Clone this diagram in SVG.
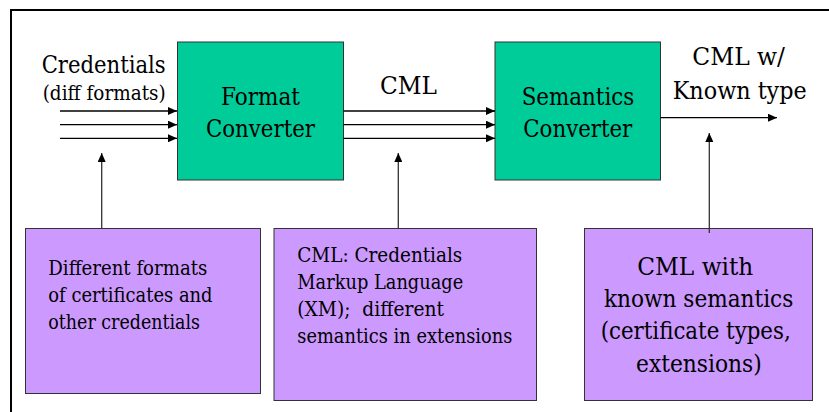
<svg xmlns="http://www.w3.org/2000/svg" width="829" height="412" viewBox="0 0 829 412">
<defs>
<marker id="ah" markerWidth="10" markerHeight="8" refX="9" refY="4" orient="auto" markerUnits="userSpaceOnUse">
<path d="M0,0 L9,4 L0,8 Z" fill="#000"/>
</marker>
</defs>
<style>
text{font-family:'DejaVu Serif',serif;fill:#000}
.big{font-size:24px}
.med{font-size:20.5px}
.sm{font-size:20px}
.green{fill:#00CC99;stroke:#333;stroke-width:1}
.purple{fill:#CC99FF;stroke:#333;stroke-width:1}
.ln{stroke:#000;stroke-width:1.3;fill:none}
.up{stroke:#333;stroke-width:1.3;fill:none}
</style>
<rect x="0" y="0" width="829" height="412" fill="#fff"/>
<rect x="11" y="10" width="840" height="430" fill="none" stroke="#000" stroke-width="2"/>
<g id="labels">
<text class="big" x="41.7" y="73" textLength="124" lengthAdjust="spacingAndGlyphs">Credentials</text>
<text class="med" x="42.7" y="100" textLength="123" lengthAdjust="spacingAndGlyphs">(diff formats)</text>
<text class="big" x="380" y="94" textLength="57" lengthAdjust="spacingAndGlyphs">CML</text>
<text class="big" x="692.3" y="65" textLength="92.7" lengthAdjust="spacingAndGlyphs">CML w/</text>
<text class="big" x="672.7" y="99" textLength="134" lengthAdjust="spacingAndGlyphs">Known type</text>
</g>
<g id="format-converter">
<rect class="green" x="177.5" y="42" width="166" height="138"/>
<text class="big" x="221" y="105" textLength="79" lengthAdjust="spacingAndGlyphs">Format</text>
<text class="big" x="206" y="136.5" textLength="109" lengthAdjust="spacingAndGlyphs">Converter</text>
</g>
<g id="semantics-converter">
<rect class="green" x="495" y="42" width="165.5" height="138"/>
<text class="big" x="521.7" y="104.5" textLength="112.6" lengthAdjust="spacingAndGlyphs">Semantics</text>
<text class="big" x="523.3" y="136.5" textLength="109" lengthAdjust="spacingAndGlyphs">Converter</text>
</g>
<g id="note-formats">
<rect class="purple" x="25.5" y="228.5" width="235" height="165"/>
<text class="sm" x="48.3" y="275" textLength="159" lengthAdjust="spacingAndGlyphs">Different formats</text>
<text class="sm" x="48.3" y="302" textLength="164.3" lengthAdjust="spacingAndGlyphs">of certificates and</text>
<text class="sm" x="48.3" y="328.5" textLength="151.7" lengthAdjust="spacingAndGlyphs">other credentials</text>
</g>
<g id="note-cml">
<rect class="purple" x="274" y="228.5" width="262.5" height="172"/>
<text class="med" x="297.3" y="261.5" textLength="165" lengthAdjust="spacingAndGlyphs">CML: Credentials</text>
<text class="med" x="297.3" y="288.5" textLength="166" lengthAdjust="spacingAndGlyphs">Markup Language</text>
<text class="med" x="297.3" y="315.5" xml:space="preserve" textLength="146.7" lengthAdjust="spacingAndGlyphs">(XM);  different</text>
<text class="med" x="297.3" y="343" textLength="215" lengthAdjust="spacingAndGlyphs">semantics in extensions</text>
</g>
<g id="note-semantics">
<rect class="purple" x="584.5" y="228.5" width="228" height="172"/>
<text class="big" x="637.3" y="275" textLength="116" lengthAdjust="spacingAndGlyphs">CML with</text>
<text class="big" x="604" y="306.5" textLength="189.3" lengthAdjust="spacingAndGlyphs">known semantics</text>
<text class="big" x="600.7" y="339" textLength="190" lengthAdjust="spacingAndGlyphs">(certificate types,</text>
<text class="big" x="636" y="371.5" textLength="125.7" lengthAdjust="spacingAndGlyphs">extensions)</text>
</g>
<g id="connectors">
<line class="ln" x1="60" y1="111" x2="177" y2="111" marker-end="url(#ah)"/>
<line class="ln" x1="60" y1="124.7" x2="177" y2="124.7" marker-end="url(#ah)"/>
<line class="ln" x1="60" y1="138.3" x2="177" y2="138.3" marker-end="url(#ah)"/>
<line class="ln" x1="343.5" y1="111" x2="495" y2="111" marker-end="url(#ah)"/>
<line class="ln" x1="343.5" y1="124.7" x2="495" y2="124.7" marker-end="url(#ah)"/>
<line class="ln" x1="343.5" y1="138.3" x2="495" y2="138.3" marker-end="url(#ah)"/>
<line class="ln" x1="660.5" y1="117.7" x2="777" y2="117.7" marker-end="url(#ah)"/>
<line class="up" x1="101.7" y1="228.5" x2="101.7" y2="153" marker-end="url(#ah)"/>
<line class="up" x1="398.3" y1="228.5" x2="398.3" y2="153" marker-end="url(#ah)"/>
<line class="up" x1="709.3" y1="233" x2="709.3" y2="133" marker-end="url(#ah)"/>
</g>
</svg>
